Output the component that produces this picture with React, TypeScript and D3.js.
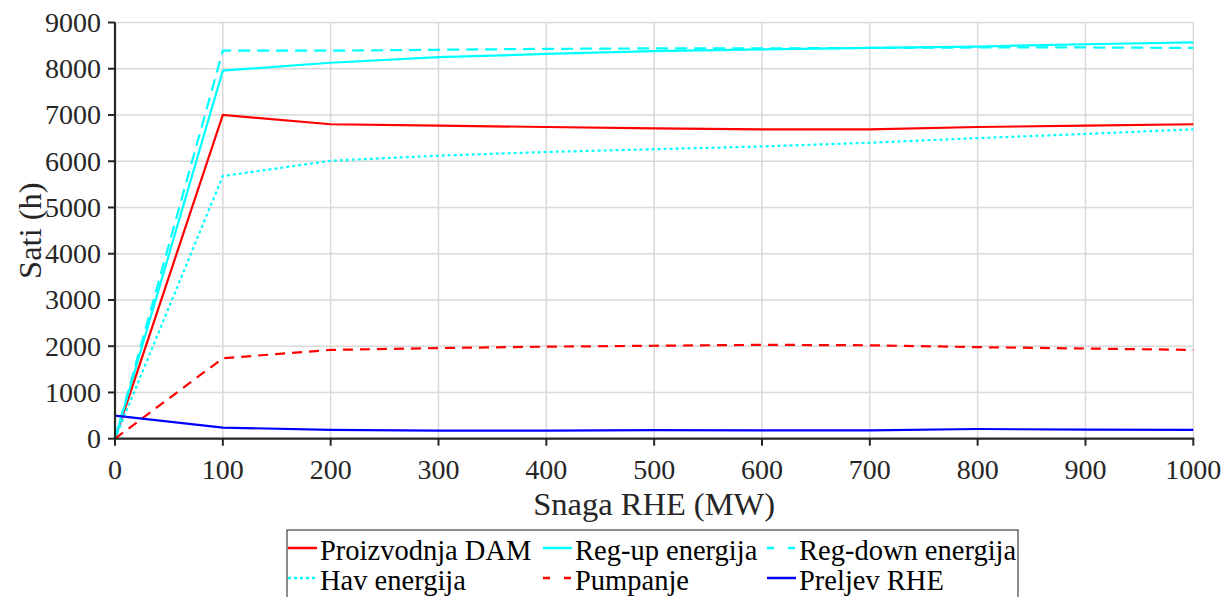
import React from "react";
import * as d3 from "d3";

const xValues = [0, 100, 200, 300, 400, 500, 600, 700, 800, 900, 1000];
const proizvodnjaDAM = [0, 7000, 6800, 6770, 6740, 6710, 6690, 6690, 6740, 6770, 6800];
const regUp = [0, 7960, 8130, 8250, 8320, 8380, 8420, 8450, 8480, 8530, 8570];
const regDown = [0, 8390, 8390, 8410, 8430, 8440, 8440, 8450, 8460, 8460, 8450];
const havEnergija = [0, 5680, 6010, 6120, 6200, 6260, 6320, 6400, 6500, 6590, 6690];
const pumpanje = [0, 1740, 1920, 1960, 1990, 2010, 2030, 2020, 1980, 1950, 1920];
const preljevRHE = [500, 240, 190, 175, 175, 185, 180, 180, 210, 195, 190];

const xTicks = [0, 100, 200, 300, 400, 500, 600, 700, 800, 900, 1000];
const yTicks = [0, 1000, 2000, 3000, 4000, 5000, 6000, 7000, 8000, 9000];

const seriesNames = ["Proizvodnja DAM", "Reg-up energija", "Reg-down energija", "Hav energija", "Pumpanje", "Preljev RHE"];
const seriesData = [proizvodnjaDAM, regUp, regDown, havEnergija, pumpanje, preljevRHE];
const seriesColors = ["#ff0000", "#00ffff", "#00ffff", "#00ffff", "#ff0000", "#0000ff"];
const seriesDash = ["", "", "12,7", "3,3", "10,7", ""];
const legendDash = ["", "", "7,14", "3,3", "7,14", ""];

const font = "'Liberation Serif', 'Times New Roman', Times, serif";

export default function App() {
  const x = d3.scaleLinear().domain([0, 1000]).range([115, 1193.3]);
  const y = d3.scaleLinear().domain([0, 9000]).range([438.7, 22.5]);
  const line = d3.line<number>().x((_, i) => x(xValues[i])).y((d) => y(d));

  const legendCols = [288, 543, 767];
  const legendBase = [560, 590];

  return (
    <div style={{ fontFamily: font }}>
      <svg width={1226} height={597} style={{ position: "absolute", left: 0, top: 0, background: "#fff", fontFamily: font }}>
        {/* grid */}
        {xTicks.map((t) => (
          <line key={"gx" + t} x1={x(t)} x2={x(t)} y1={y(9000)} y2={y(0)} stroke="#d9d9d9" strokeWidth={1.5} />
        ))}
        {yTicks.map((t) => (
          <line key={"gy" + t} x1={x(0)} x2={x(1000)} y1={y(t)} y2={y(t)} stroke="#d9d9d9" strokeWidth={1.5} />
        ))}
        {/* series */}
        {seriesData.map((d, i) => (
          <path key={"s" + i} d={line(d) || ""} fill="none" stroke={seriesColors[i]} strokeWidth={2.2} strokeDasharray={seriesDash[i]} />
        ))}
        {/* axes */}
        <line x1={x(0)} x2={x(0)} y1={y(9000)} y2={y(0) + 1} stroke="#262626" strokeWidth={2.2} />
        <line x1={x(0) - 1} x2={x(1000) + 1} y1={y(0)} y2={y(0)} stroke="#262626" strokeWidth={2.2} />
        {yTicks.map((t) => (
          <g key={"yt" + t}>
            <line x1={x(0) - 7} x2={x(0)} y1={y(t)} y2={y(t)} stroke="#262626" strokeWidth={2} />
            <text x={101} y={y(t) + 9.5} textAnchor="end" fontSize={28} fill="#262626" style={{ fontFamily: font }}>{t}</text>
          </g>
        ))}
        {xTicks.map((t) => (
          <g key={"xt" + t}>
            <line x1={x(t)} x2={x(t)} y1={y(0)} y2={y(0) + 7} stroke="#262626" strokeWidth={2} />
            <text x={x(t)} y={479} textAnchor="middle" fontSize={28} fill="#262626" style={{ fontFamily: font }}>{t}</text>
          </g>
        ))}
        <text x={(x(0) + x(1000)) / 2} y={515} textAnchor="middle" fontSize={32.5} fill="#262626" style={{ fontFamily: font }}>Snaga RHE (MW)</text>
        <text transform={`translate(41,${(y(0) + y(9000)) / 2}) rotate(-90)`} textAnchor="middle" fontSize={32.5} fill="#262626" style={{ fontFamily: font }}>Sati (h)</text>
        {/* legend */}
        <rect x={287} y={530} width={731} height={80} fill="#fff" stroke="#404040" strokeWidth={1.2} />
        {seriesNames.map((name, i) => {
          const cx = legendCols[i % 3];
          const by = legendBase[Math.floor(i / 3)];
          return (
            <g key={"lg" + i}>
              <line x1={cx} x2={cx + 29} y1={by - 12} y2={by - 12} stroke={seriesColors[i]} strokeWidth={2.5} strokeDasharray={legendDash[i]} />
              <text x={cx + 32} y={by} fontSize={28.5} fill="#000" style={{ fontFamily: font }}>{name}</text>
            </g>
          );
        })}
      </svg>
    </div>
  );
}
